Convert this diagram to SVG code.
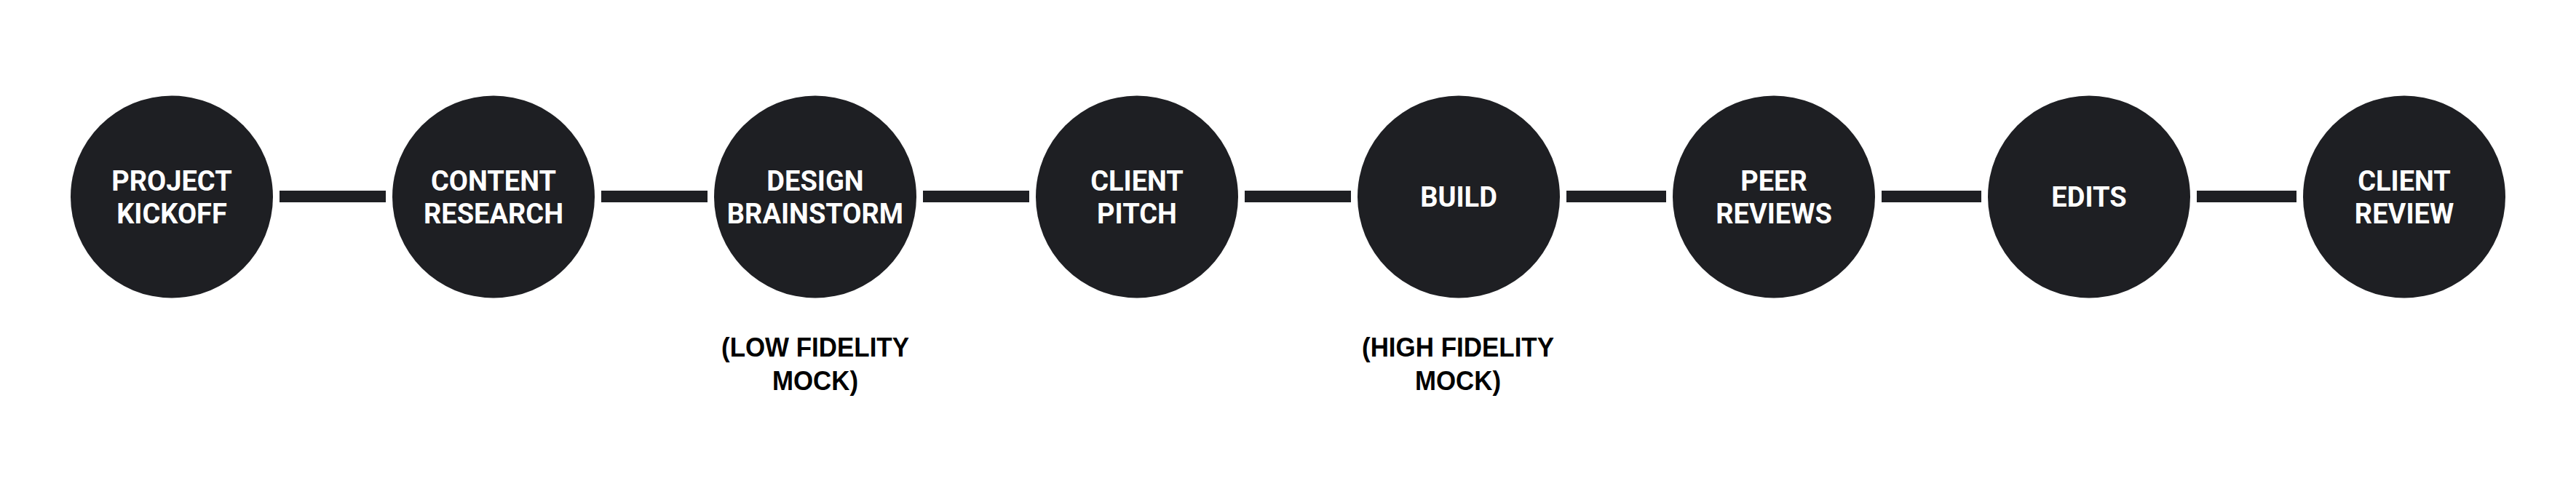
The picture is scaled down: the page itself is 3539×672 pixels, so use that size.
<svg xmlns="http://www.w3.org/2000/svg" width="3539" height="672" viewBox="0 0 3539 672">
<style>
.node{fill:#1e1f23}
.lbl{font-family:Roboto,"Liberation Sans",sans-serif;font-weight:700;font-size:38px;fill:#ffffff;text-anchor:middle}
.note{font-family:"Liberation Sans",Arial,sans-serif;font-weight:700;font-size:37px;fill:#000000;text-anchor:middle}
.conn{stroke:#1e1f23;stroke-width:16;fill:none}
</style>
<rect width="3539" height="672" fill="#ffffff"/>
<g id="connectors">
<line class="conn" x1="384" y1="270" x2="530" y2="270"/>
<line class="conn" x1="826" y1="270" x2="972" y2="270"/>
<line class="conn" x1="1268" y1="270" x2="1414" y2="270"/>
<line class="conn" x1="1710" y1="270" x2="1856" y2="270"/>
<line class="conn" x1="2152" y1="270" x2="2289" y2="270"/>
<line class="conn" x1="2585" y1="270" x2="2722" y2="270"/>
<line class="conn" x1="3018" y1="270" x2="3155" y2="270"/>
</g>
<g id="n1"><circle class="node" cx="236" cy="270.5" r="139"/><text class="lbl" x="236" y="262">PROJECT</text><text class="lbl" x="236" y="307">KICKOFF</text></g>
<g id="n2"><circle class="node" cx="678" cy="270.5" r="139"/><text class="lbl" x="678" y="262">CONTENT</text><text class="lbl" x="678" y="307">RESEARCH</text></g>
<g id="n3"><circle class="node" cx="1120" cy="270.5" r="139"/><text class="lbl" x="1120" y="262">DESIGN</text><text class="lbl" x="1120" y="307">BRAINSTORM</text></g>
<g id="n3note"><text class="note" x="1120" y="490" textLength="258" lengthAdjust="spacingAndGlyphs">(LOW FIDELITY</text><text class="note" x="1120" y="536" textLength="118" lengthAdjust="spacingAndGlyphs">MOCK)</text></g>
<g id="n4"><circle class="node" cx="1562" cy="270.5" r="139"/><text class="lbl" x="1562" y="262">CLIENT</text><text class="lbl" x="1562" y="307">PITCH</text></g>
<g id="n5"><circle class="node" cx="2004" cy="270.5" r="139"/><text class="lbl" x="2004" y="284">BUILD</text></g>
<g id="n5note"><text class="note" x="2003" y="490" textLength="264" lengthAdjust="spacingAndGlyphs">(HIGH FIDELITY</text><text class="note" x="2003" y="536" textLength="118" lengthAdjust="spacingAndGlyphs">MOCK)</text></g>
<g id="n6"><circle class="node" cx="2437" cy="270.5" r="139"/><text class="lbl" x="2437" y="262">PEER</text><text class="lbl" x="2437" y="307">REVIEWS</text></g>
<g id="n7"><circle class="node" cx="2870" cy="270.5" r="139"/><text class="lbl" x="2870" y="284">EDITS</text></g>
<g id="n8"><circle class="node" cx="3303" cy="270.5" r="139"/><text class="lbl" x="3303" y="262">CLIENT</text><text class="lbl" x="3303" y="307">REVIEW</text></g>
</svg>
